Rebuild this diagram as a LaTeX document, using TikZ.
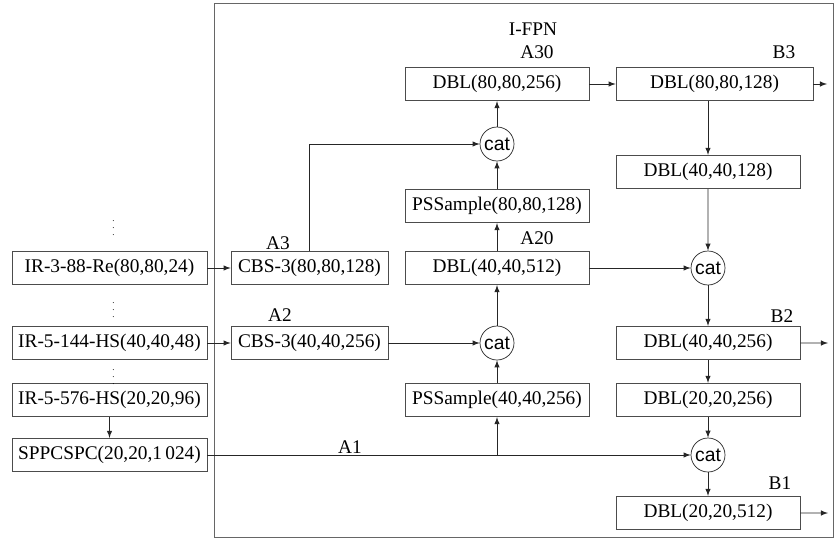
\documentclass[tikz,border=0pt]{standalone}
\usepackage{fontspec}
\setmainfont{Liberation Serif}
\newfontfamily\boxfont{Liberation Serif}
\newfontfamily\catfont{Liberation Sans}
\usepackage{tikz}
\usetikzlibrary{arrows}
\tikzstyle{block} = [rectangle, minimum width=3.68cm, minimum height=0.67cm, text centered, inner sep=1pt, draw=black!70, fill=white]
\tikzstyle{inblock} = [block, minimum width=3.9cm]
\tikzstyle{cbsblock} = [block, minimum width=3.14cm]
\tikzstyle{catnode} = [circle, draw=black!85, inner sep=0pt, minimum size=0.68cm, font=\catfont\fontsize{11}{12}\selectfont]
\tikzstyle{dots} = [inner sep=0pt, font=\tiny]
\tikzstyle{frame} = [draw=black!60]
\tikzstyle{arrow} = [thin, ->, >=latex, black!85]

\begin{document}
\begin{tikzpicture}[node distance=1.2cm, font=\boxfont\fontsize{11}{12}\selectfont]
	\useasboundingbox (0,0) rectangle (16.72,-10.82);
	\draw [frame] (4.28,-0.06) rectangle (16.66,-10.74);
	\node (title) at (10.66,-0.58) {I-FPN};

	\node (A30) [block] at (9.94,-1.68) {DBL(80,80,256)};
	\node (cat3) [catnode, below of=A30] {cat};
	\node (ps80) [block, below of=cat3, yshift=-0.04cm] {PSSample(80,80,128)};
	\node (A20) [block, below of=ps80, yshift=-0.04cm] {DBL(40,40,512)};
	\node (cat2) [catnode, below of=A20, yshift=-0.3cm] {cat};
	\node (ps40) [block, below of=cat2, yshift=0.06cm] {PSSample(40,40,256)};
	\coordinate [below of=ps40, yshift=0.1cm] (split);

	\node (B3) [block, minimum width=3.94cm, right of=A30, xshift=3.15cm] {DBL(80,80,128)};
	\node (d128) [block, below of=B3, xshift=-0.13cm, yshift=-0.56cm] {DBL(40,40,128)};
	\node (cat1) [catnode, right of=A20, xshift=3.02cm] {cat};
	\node (B2) [block, right of=cat2, xshift=3.02cm] {DBL(40,40,256)};
	\node (d2020) [block, right of=ps40, xshift=3.02cm] {DBL(20,20,256)};
	\node (cat0) [catnode, right of=split, xshift=3.02cm] {cat};
	\node (B1) [block, below of=cat0, yshift=0.04cm] {DBL(20,20,512)};

	\node (A3) [cbsblock, left of=A20, xshift=-2.55cm] {CBS-3(80,80,128)};
	\node (A2) [cbsblock, left of=cat2, xshift=-2.55cm] {CBS-3(40,40,256)};
	\node (ir3) [inblock, left of=A3, xshift=-2.8cm] {IR-3-88-Re(80,80,24)};
	\node (ir5a) [inblock, left of=A2, xshift=-2.8cm] {IR-5-144-HS(40,40,48)};
	\node (ir5b) [inblock, below of=ir5a, yshift=0.06cm] {IR-5-576-HS(20,20,96)};
	\node (A1) [inblock, below of=ir5b, yshift=0.1cm] {SPPCSPC(20,20,1\,024)};

	\node (dotsA) [dots] at (2.27,-4.46) {$\vdots$};
	\node (dotsB) [dots] at (2.27,-6.1) {$\vdots$};
	\node (dotsC) [dots] at (2.27,-7.44) {$\vdots$};

	\node (tA30) at (10.74,-1.04) {A30};
	\node (tB3) at (15.68,-1.04) {B3};
	\node (tA20) at (10.74,-4.76) {A20};
	\node (tA3) at (5.56,-4.86) {A3};
	\node (tA2) at (5.6,-6.3) {A2};
	\node (tA1) at (7.0,-8.94) {A1};
	\node (tB2) at (15.64,-6.32) {B2};
	\node (tB1) at (15.6,-9.66) {B1};

	\coordinate (oB3) at (16.54,-1.68);
	\coordinate (oB2) at (16.56,-6.86);
	\coordinate (oB1) at (16.56,-10.26);

	\draw [arrow] (ir3) -- (A3);
	\draw [arrow] (ir5a) -- (A2);
	\draw [arrow] (ir5b) -- (A1);
	\draw [arrow] (A3.north) |- (cat3);
	\draw [arrow] (A2) -- (cat2);
	\draw [arrow] (ps40) -- (cat2);
	\draw [arrow] (cat2) -- (A20);
	\draw [arrow] (A20) -- (ps80);
	\draw [arrow] (ps80) -- (cat3);
	\draw [arrow] (cat3) -- (A30);
	\draw [arrow] (A30) -- (B3);
	\draw [arrow] (A20) -- (cat1);
	\draw [thin, black!85] (A1) -- (split);
	\draw [arrow] (split) -- (ps40);
	\draw [arrow] (split) -- (cat0);
	\draw [arrow] (B3.south -| d128) -- (d128);
	\draw [arrow] (d128) -- (cat1);
	\draw [arrow] (cat1) -- (B2);
	\draw [arrow] (B2) -- (d2020);
	\draw [arrow] (d2020) -- (cat0);
	\draw [arrow] (cat0) -- (B1);
	\draw [arrow] (B3) -- (oB3);
	\draw [arrow] (B2) -- (oB2);
	\draw [arrow] (B1) -- (oB1);
\end{tikzpicture}
\end{document}
